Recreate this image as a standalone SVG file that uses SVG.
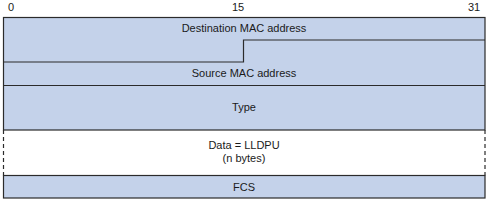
<svg xmlns="http://www.w3.org/2000/svg" width="488" height="201" viewBox="0 0 488 201">
<style>
.f{fill:#c4d2ea;stroke:none}
.s{stroke:#2b2b2b;stroke-width:1.2;fill:none}
.d{stroke:#2b2b2b;stroke-width:1.2;fill:none;stroke-dasharray:4,3}
text{font-family:"Liberation Sans",Arial,sans-serif;font-size:11px;fill:#1a1a1a}
.c{text-anchor:middle}
</style>
<rect width="488" height="201" fill="#ffffff"/>
<g id="scale">
<text x="8" y="11">0</text>
<text x="232" y="11">15</text>
<text x="468" y="11">31</text>
</g>
<g id="dest-mac">
<rect class="f" x="3.5" y="17.5" width="481.5" height="44.5"/>
<text class="c" x="244" y="32">Destination MAC address</text>
</g>
<g id="src-mac">
<path class="f" d="M3.5,62 H243.5 V40 H485 V85.5 H3.5 Z"/>
<text class="c" x="244" y="77">Source MAC address</text>
</g>
<g id="type">
<rect class="f" x="3.5" y="85.5" width="481.5" height="44.5"/>
<text class="c" x="244" y="111">Type</text>
</g>
<g id="data">
<rect x="3.5" y="130" width="481.5" height="45.5" fill="#ffffff"/>
<text class="c" x="244" y="149">Data = LLDPU</text>
<text class="c" x="244" y="162">(n bytes)</text>
</g>
<g id="fcs">
<rect class="f" x="3.5" y="175.5" width="481.5" height="22.5"/>
<text class="c" x="244" y="191">FCS</text>
</g>
<g id="connectors">
<rect class="s" x="3.5" y="17.5" width="481.5" height="112.5"/>
<path class="s" d="M3.5,62 H243.5 V40 H485"/>
<line class="s" x1="3.5" y1="85.5" x2="485" y2="85.5"/>
<line class="d" x1="3.5" y1="130" x2="3.5" y2="175.5"/>
<line class="d" x1="485" y1="130" x2="485" y2="175.5"/>
<rect class="s" x="3.5" y="175.5" width="481.5" height="22.5"/>
</g>
</svg>
